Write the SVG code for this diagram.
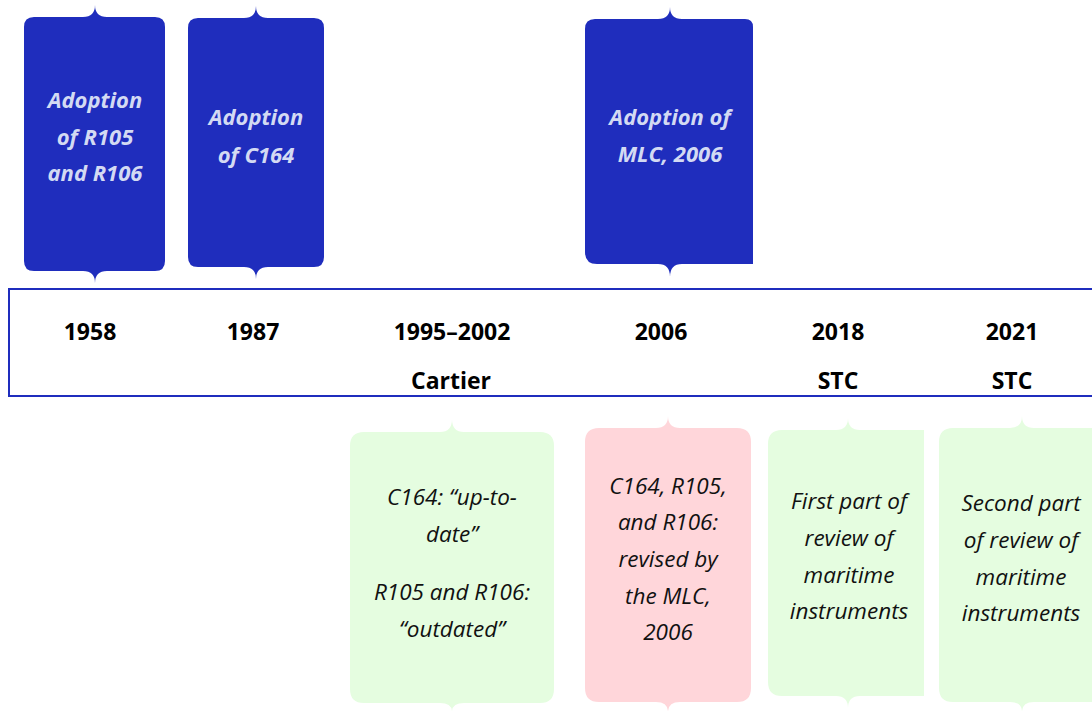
<svg xmlns="http://www.w3.org/2000/svg" width="1092" height="711" viewBox="0 0 1092 711">
<style>
.blue{fill:#1f2dbd}
.green{fill:#e5fde0}
.pink{fill:#ffd6da}
.tw{font-family:"Open Sans","Noto Sans",sans-serif;font-size:22px;font-weight:700;font-style:italic;fill:#d3daf3;text-anchor:middle}
.tb{font-family:"Open Sans","Noto Sans",sans-serif;font-size:22.5px;font-style:italic;fill:#111;text-anchor:middle}
.yr{font-family:"Open Sans","Noto Sans",sans-serif;font-size:23px;font-weight:700;fill:#000;text-anchor:middle}
.axis{fill:none;stroke:#1f2dbd;stroke-width:2}
</style>
<rect width="1092" height="711" fill="#fff"/>
<g id="timeline">
<path class="axis" d="M1092,289 H9 V396 H1092"/>
</g>
<g id="connectors"></g>
<g id="node-1958">
<path class="blue" d="M34,17 H83 Q95,17 95,5 Q95,17 107,17 H155 Q165,17 165,27 V261 Q165,271 155,271 H107 Q95,271 95,283 Q95,271 83,271 H34 Q24,271 24,261 V27 Q24,17 34,17 Z"/>
<text class="tw" x="95" y="108">Adoption</text>
<text class="tw" x="95" y="145">of R105</text>
<text class="tw" x="95" y="181">and R106</text>
</g>
<g id="node-1987">
<path class="blue" d="M198,18 H244 Q256,18 256,6 Q256,18 268,18 H314 Q324,18 324,28 V257 Q324,267 314,267 H268 Q256,267 256,279 Q256,267 244,267 H198 Q188,267 188,257 V28 Q188,18 198,18 Z"/>
<text class="tw" x="256" y="125">Adoption</text>
<text class="tw" x="256" y="163">of C164</text>
</g>
<g id="node-2006-top">
<path class="blue" d="M595,19 H658 Q670,19 670,7 Q670,19 682,19 H745 Q753,19 753,27 V264 H682 Q670,264 670,277 Q670,264 658,264 H597 Q585,264 585,252 V29 Q585,19 595,19 Z"/>
<text class="tw" x="670" y="125">Adoption of</text>
<text class="tw" x="670" y="162">MLC, 2006</text>
</g>
<g id="labels">
<text class="yr" x="90" y="340">1958</text>
<text class="yr" x="253" y="340">1987</text>
<text class="yr" x="452" y="340">1995–2002</text>
<text class="yr" x="661" y="340">2006</text>
<text class="yr" x="838" y="340">2018</text>
<text class="yr" x="1012" y="340">2021</text>
<text class="yr" x="451" y="389">Cartier</text>
<text class="yr" x="838" y="389">STC</text>
<text class="yr" x="1012" y="389">STC</text>
</g>
<g id="node-cartier">
<path class="green" d="M364,432 H440 Q452,432 452,419 Q452,432 464,432 H540 Q554,432 554,446 V689 Q554,703 540,703 H464 Q452,703 452,712 Q452,703 440,703 H364 Q350,703 350,689 V446 Q350,432 364,432 Z"/>
<text class="tb" x="452" y="505">C164: “up-to-</text>
<text class="tb" x="452" y="542">date”</text>
<text class="tb" x="452" y="600">R105 and R106:</text>
<text class="tb" x="452" y="637">“outdated”</text>
</g>
<g id="node-2006-bottom">
<path class="pink" d="M599,428 H656 Q668,428 668,416 Q668,428 680,428 H737 Q751,428 751,442 V688 Q751,702 737,702 H680 Q668,702 668,712 Q668,702 656,702 H599 Q585,702 585,688 V442 Q585,428 599,428 Z"/>
<text class="tb" x="668" y="494">C164, R105,</text>
<text class="tb" x="668" y="530">and R106:</text>
<text class="tb" x="668" y="567">revised by</text>
<text class="tb" x="668" y="604">the MLC,</text>
<text class="tb" x="668" y="640">2006</text>
</g>
<g id="node-2018">
<path class="green" d="M782,430 H836 Q848,430 848,418 Q848,430 860,430 H924 V696 H860 Q848,696 848,708 Q848,696 836,696 H782 Q768,696 768,682 V444 Q768,430 782,430 Z"/>
<text class="tb" x="849" y="509">First part of</text>
<text class="tb" x="849" y="546">review of</text>
<text class="tb" x="849" y="583">maritime</text>
<text class="tb" x="849" y="619">instruments</text>
</g>
<g id="node-2021">
<path class="green" d="M953,428 H1010 Q1022,428 1022,416 Q1022,428 1034,428 H1100 V702 H1034 Q1022,702 1022,712 Q1022,702 1010,702 H953 Q939,702 939,688 V442 Q939,428 953,428 Z"/>
<text class="tb" x="1021" y="511">Second part</text>
<text class="tb" x="1021" y="548">of review of</text>
<text class="tb" x="1021" y="585">maritime</text>
<text class="tb" x="1021" y="621">instruments</text>
</g>
</svg>
